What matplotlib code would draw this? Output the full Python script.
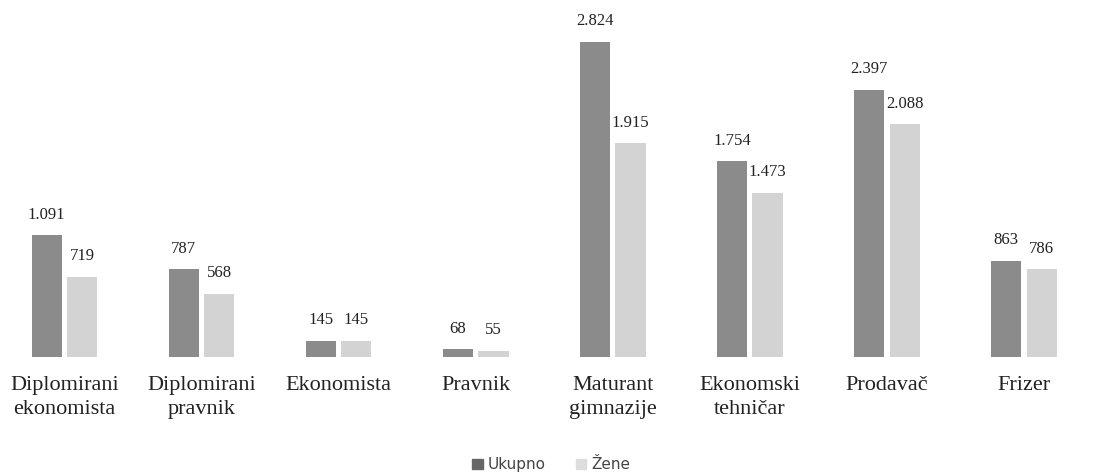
import matplotlib
matplotlib.use("Agg")
import matplotlib.pyplot as plt
import matplotlib.patches as patches
import numpy as np

# data
categories = ["Diplomirani\nekonomista", "Diplomirani\npravnik", "Ekonomista", "Pravnik",
              "Maturant\ngimnazije", "Ekonomski\ntehničar", "Prodavač", "Frizer"]
ukupno = [1091, 787, 145, 68, 2824, 1754, 2397, 863]
zene = [719, 568, 145, 55, 1915, 1473, 2088, 786]
ukupno_labels = ["1.091", "787", "145", "68", "2.824", "1.754", "2.397", "863"]
zene_labels = ["719", "568", "145", "55", "1.915", "1.473", "2.088", "786"]

dark = "#8b8b8b"
light = "#d3d3d3"
serif = "Liberation Serif"

fig = plt.figure(figsize=(11.02, 4.72), dpi=100, facecolor="white")
ax = fig.add_axes([0, 0.2436, 1, 0.7564])
ax.set_facecolor("white")

x = np.arange(len(categories))
w = 0.22
off = 0.13
b1 = ax.bar(x - off, ukupno, width=w, color=dark, zorder=2)
b2 = ax.bar(x + off, zene, width=w, color=light, zorder=2)

# value labels above bars
for rect, lab in zip(b1, ukupno_labels):
    ax.annotate(lab, (rect.get_x() + rect.get_width() / 2, rect.get_height()),
                xytext=(0, 9), textcoords="offset points", ha="center", va="bottom",
                fontsize=12, family=serif, color="#222222")
for rect, lab in zip(b2, zene_labels):
    ax.annotate(lab, (rect.get_x() + rect.get_width() / 2, rect.get_height()),
                xytext=(0, 9), textcoords="offset points", ha="center", va="bottom",
                fontsize=12, family=serif, color="#222222")

ax.set_xlim(-0.47, 7.57)
ax.set_ylim(0, 3200)
ax.set_xticks(x)
ax.set_xticklabels(categories, fontsize=16, family=serif, color="#222222", linespacing=1.3)
ax.tick_params(axis="x", length=0, pad=14)
ax.set_yticks([])

# no borders
for s in ax.spines.values():
    s.set_visible(False)

handles = [patches.Patch(color="#666666", label="Ukupno"),
           patches.Patch(color="#dddddd", label="Žene")]
fig.legend(handles=handles, loc="lower center", bbox_to_anchor=(0.5, -0.03), ncol=2,
           frameon=False, fontsize=11, handlelength=0.7, handleheight=0.7,
           handletextpad=0.3, columnspacing=2.0, labelcolor="#444444")

plt.savefig("out.png", dpi=100, facecolor="white")
